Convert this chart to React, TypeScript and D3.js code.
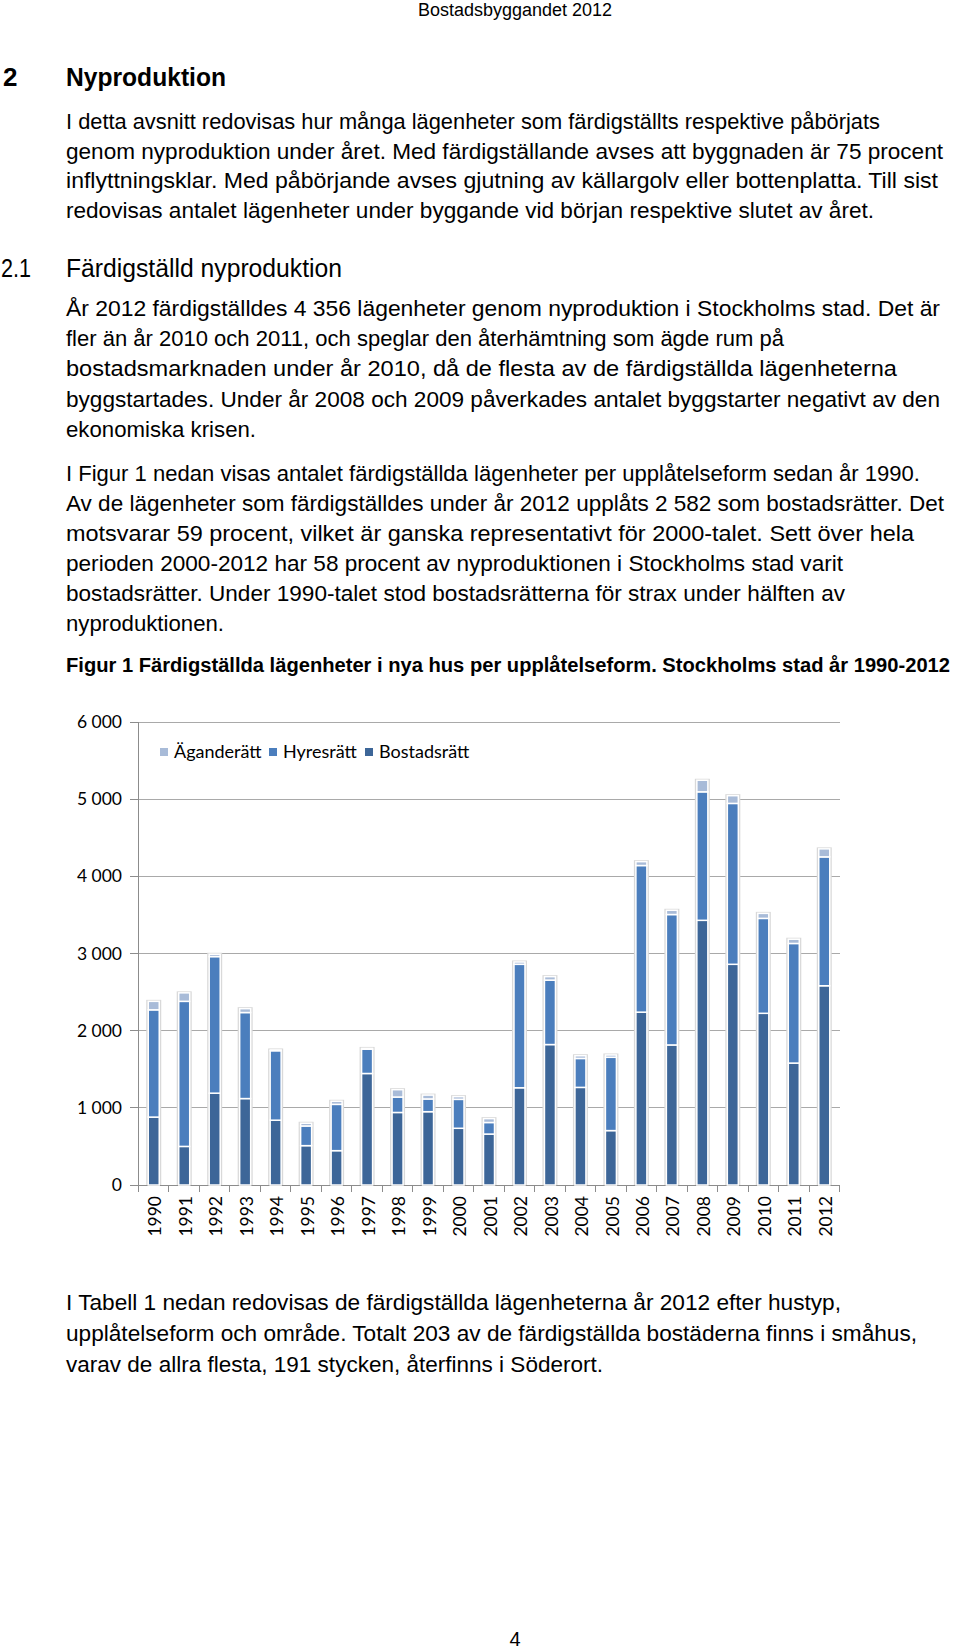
import React from "react";
import * as d3 from "d3";

const years = ["1990","1991","1992","1993","1994","1995","1996","1997","1998","1999","2000","2001","2002","2003","2004","2005","2006","2007","2008","2009","2010","2011","2012"];
const bostadsratt = [880, 500, 1190, 1120, 840, 510, 445, 1445, 940, 950, 735, 660, 1260, 1820, 1265, 705, 2240, 1815, 3430, 2860, 2225, 1580, 2582];
const hyresratt = [1390, 1880, 1770, 1115, 900, 255, 600, 315, 200, 165, 375, 150, 1600, 835, 375, 950, 1900, 1690, 1665, 2085, 1230, 1550, 1670];
const aganderatt = [110, 110, 30, 50, 10, 35, 40, 10, 95, 50, 35, 50, 30, 45, 35, 30, 50, 55, 150, 100, 65, 55, 104];
const yTicks = [0, 1000, 2000, 3000, 4000, 5000, 6000];
const tickLabel = (v: number) => (v === 0 ? "0" : `${Math.floor(v / 1000)} ${String(v % 1000).padStart(3, "0")}`);

const seriesKeys = ["bostadsratt", "hyresratt", "aganderatt"];
const seriesColors: Record<string, string> = {
  bostadsratt: "#3d6698",
  hyresratt: "#4b7ebd",
  aganderatt: "#a8bbd8",
};
const legendItems = [
  { key: "aganderatt", label: "Äganderätt" },
  { key: "hyresratt", label: "Hyresrätt" },
  { key: "bostadsratt", label: "Bostadsrätt" },
];

const para1: [string, number][] = [
  ["I detta avsnitt redovisas hur många lägenheter som färdigställts respektive påbörjats", 880],
  ["genom nyproduktion under året. Med färdigställande avses att byggnaden är 75 procent", 943],
  ["inflyttningsklar. Med påbörjande avses gjutning av källargolv eller bottenplatta. Till sist", 938],
  ["redovisas antalet lägenheter under byggande vid början respektive slutet av året.", 874],
];
const para1Y = [121, 150.5, 180, 209.5];
const para2: [string, number][] = [
  ["År 2012 färdigställdes 4 356 lägenheter genom nyproduktion i Stockholms stad. Det är", 940],
  ["fler än år 2010 och 2011, och speglar den återhämtning som ägde rum på", 784],
  ["bostadsmarknaden under år 2010, då de flesta av de färdigställda lägenheterna", 897],
  ["byggstartades. Under år 2008 och 2009 påverkades antalet byggstarter negativt av den", 940],
  ["ekonomiska krisen.", 256],
];
const para2Y = [308, 338, 368, 399, 429];
const para3: [string, number][] = [
  ["I Figur 1 nedan visas antalet färdigställda lägenheter per upplåtelseform sedan år 1990.", 920],
  ["Av de lägenheter som färdigställdes under år 2012 upplåts 2 582 som bostadsrätter. Det", 944],
  ["motsvarar 59 procent, vilket är ganska representativt för 2000-talet. Sett över hela", 914],
  ["perioden 2000-2012 har 58 procent av nyproduktionen i Stockholms stad varit", 843],
  ["bostadsrätter. Under 1990-talet stod bostadsrätterna för strax under hälften av", 845],
  ["nyproduktionen.", 224],
];
const para3Y = [473, 503, 533, 563, 593, 623];
const para4: [string, number][] = [
  ["I Tabell 1 nedan redovisas de färdigställda lägenheterna år 2012 efter hustyp,", 841],
  ["upplåtelseform och område. Totalt 203 av de färdigställda bostäderna finns i småhus,", 917],
  ["varav de allra flesta, 191 stycken, återfinns i Söderort.", 603],
];
const para4Y = [1302, 1333, 1364];

const BODY_FONT = "'Liberation Sans', Arial, Helvetica, sans-serif";
const CHART_FONT = "Lato, 'Open Sans', sans-serif";
const LEFT = 66;

function Para({ lines, ys }: { lines: [string, number][]; ys: number[] }) {
  return (
    <g fontFamily={BODY_FONT} fontSize={22.5} fill="#000">
      {lines.map(([t, end], i) => (
        <text key={i} x={LEFT} y={ys[i] + 8} textLength={end - LEFT} lengthAdjust="spacingAndGlyphs">
          {t}
        </text>
      ))}
    </g>
  );
}

export default function App() {
  const W = 960;
  const H = 1651;
  const x = d3.scaleBand<string>().domain(years).range([138.5, 839.5]).padding(0);
  const y = d3.scaleLinear().domain([0, 6000]).range([1185, 722]);
  const table = years.map((yr, i) => ({
    year: yr,
    bostadsratt: bostadsratt[i],
    hyresratt: hyresratt[i],
    aganderatt: aganderatt[i],
  }));
  const stacked = d3.stack<any>().keys(seriesKeys)(table);
  const bw = x.bandwidth();
  const half = 5.5;
  const x0 = x.range()[0];
  const x1 = x.range()[1];

  return (
    <svg width={W} height={H} style={{ position: "absolute", left: 0, top: 0, background: "#fff" }}>
      <rect x={0} y={0} width={W} height={H} fill="#fff" />
      {/* header */}
      <text x={418} y={16} fontFamily={BODY_FONT} fontSize={18} textLength={194} lengthAdjust="spacingAndGlyphs">
        Bostadsbyggandet 2012
      </text>
      {/* heading 2 */}
      <g fontFamily={BODY_FONT} fontWeight="bold" fontSize={26}>
        <text x={3} y={86}>2</text>
        <text x={LEFT} y={86} textLength={160} lengthAdjust="spacingAndGlyphs">Nyproduktion</text>
      </g>
      <Para lines={para1} ys={para1Y} />
      {/* heading 2.1 */}
      <g fontFamily={BODY_FONT} fontSize={26}>
        <text x={1} y={277} textLength={30} lengthAdjust="spacingAndGlyphs">2.1</text>
        <text x={LEFT} y={277} textLength={276} lengthAdjust="spacingAndGlyphs">Färdigställd nyproduktion</text>
      </g>
      <Para lines={para2} ys={para2Y} />
      <Para lines={para3} ys={para3Y} />
      {/* caption */}
      <text x={LEFT} y={672} fontFamily={BODY_FONT} fontWeight="bold" fontSize={20} textLength={884} lengthAdjust="spacingAndGlyphs">
        Figur 1 Färdigställda lägenheter i nya hus per upplåtelseform. Stockholms stad år 1990-2012
      </text>

      {/* chart */}
      <g shapeRendering="crispEdges">
        {yTicks.filter((v) => v > 0).map((v) => (
          <line key={v} x1={x0} x2={x1} y1={y(v)} y2={y(v)} stroke="#a9a9a9" strokeWidth={1} />
        ))}
        {yTicks.map((v) => (
          <line key={"t" + v} x1={129.5} x2={x0} y1={y(v)} y2={y(v)} stroke="#8c8c8c" strokeWidth={1} />
        ))}
        <line x1={x0} x2={x0} y1={y(6000)} y2={y(0)} stroke="#8c8c8c" strokeWidth={1} />
        <line x1={x0} x2={x1} y1={y(0)} y2={y(0)} stroke="#8c8c8c" strokeWidth={1} />
        {d3.range(years.length + 1).map((i) => (
          <line key={"xt" + i} x1={x0 + i * bw} x2={x0 + i * bw} y1={y(0)} y2={y(0) + 7} stroke="#8c8c8c" strokeWidth={1} />
        ))}
      </g>
      {/* bar halos */}
      {years.map((yr, i) => {
        const cx = (x(yr) as number) + bw / 2;
        const top = y(stacked[stacked.length - 1][i][1]);
        return (
          <rect key={"h" + yr} x={cx - 7.5} y={top - 1.5} width={15} height={y(0) - top + 1.5} fill="#d9d9d9" />
        );
      })}
      {stacked.map((s) => (
        <g key={s.key} fill={seriesColors[s.key]}>
          {s.map((d, i) => {
            const cx = (x(years[i]) as number) + bw / 2;
            const h = y(d[0]) - y(d[1]);
            return (
              <rect key={i} x={cx - half} y={y(d[1])} width={half * 2} height={Math.max(0, h)} stroke="#fff" strokeWidth={1.5} />
            );
          })}
        </g>
      ))}
      {/* y labels */}
      <g fontFamily={CHART_FONT} fontSize={17.5} fill="#000" textAnchor="end">
        {yTicks.map((v) => (
          <text key={v} x={122} y={y(v)} dy="0.35em">{tickLabel(v)}</text>
        ))}
      </g>
      {/* x labels */}
      <g fontFamily={CHART_FONT} fontSize={17.5} fill="#000" textAnchor="end">
        {years.map((yr) => {
          const cx = (x(yr) as number) + bw / 2 + 1.5;
          return (
            <text key={yr} transform={`translate(${cx},1196) rotate(-90)`} dy="0.35em">{yr}</text>
          );
        })}
      </g>
      {/* legend */}
      <g fontFamily={CHART_FONT} fontSize={18} fill="#000">
        {legendItems.map((it, i) => {
          const mx = [160, 269, 365][i];
          return (
            <g key={it.key}>
              <rect x={mx} y={748} width={8} height={8} fill={seriesColors[it.key]} />
              <text x={mx + 14} y={752} dy="0.35em">{it.label}</text>
            </g>
          );
        })}
      </g>

      <Para lines={para4} ys={para4Y} />
      <text x={515} y={1646} fontFamily={BODY_FONT} fontSize={20} textAnchor="middle">4</text>
    </svg>
  );
}
